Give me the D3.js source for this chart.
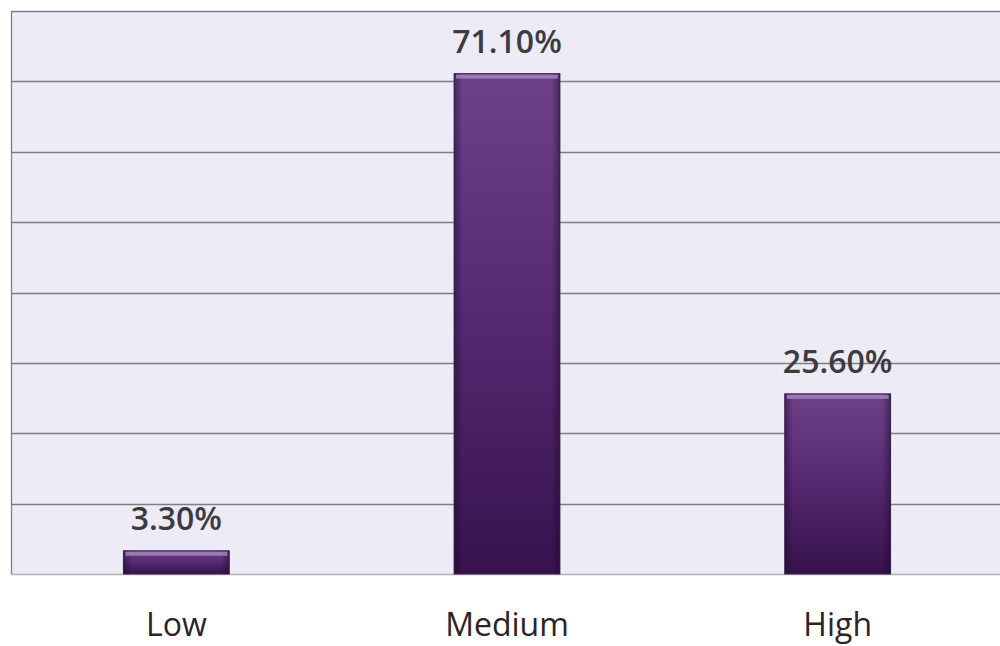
<!DOCTYPE html>
<html>
<head>
<meta charset="utf-8">
<script src="https://cdn.jsdelivr.net/npm/d3@7/dist/d3.min.js"></script>
<style>
  html, body { margin: 0; padding: 0; background: #ffffff; }
  svg { display: block; }
</style>
</head>
<body>
<svg id="chart" width="1000" height="646"></svg>
<script>
// Share of respondents per level
const categories = ["Low", "Medium", "High"];
const values = [3.3, 71.1, 25.6];
const valueLabels = ["3.30%", "71.10%", "25.60%"];
const yTicks = [0, 10, 20, 30, 40, 50, 60, 70, 80];

const svg = d3.select("#chart");
const margin = { top: 11, right: -3, bottom: 72, left: 11 };
const width = 1000, height = 646;
const plotW = width - margin.left - margin.right;
const plotH = height - margin.top - margin.bottom;

const x = d3.scaleBand()
  .domain(categories)
  .range([margin.left, margin.left + plotW])
  .paddingInner(0.68)
  .paddingOuter(0.34);

const y = d3.scaleLinear()
  .domain([0, 80])
  .range([margin.top + plotH, margin.top]);

// gradients for the bars
const defs = svg.append("defs");
const vGrad = defs.append("linearGradient")
  .attr("id", "barV").attr("x1", 0).attr("y1", 0).attr("x2", 0).attr("y2", 1);
vGrad.append("stop").attr("offset", "0%").attr("stop-color", "#6e4188");
vGrad.append("stop").attr("offset", "45%").attr("stop-color", "#582a74");
vGrad.append("stop").attr("offset", "100%").attr("stop-color", "#37124d");

const hGrad = defs.append("linearGradient")
  .attr("id", "barH").attr("x1", 0).attr("y1", 0).attr("x2", 1).attr("y2", 0);
hGrad.append("stop").attr("offset", "0%").attr("stop-color", "#1a0526").attr("stop-opacity", 0.45);
hGrad.append("stop").attr("offset", "8%").attr("stop-color", "#1a0526").attr("stop-opacity", 0.0);
hGrad.append("stop").attr("offset", "92%").attr("stop-color", "#1a0526").attr("stop-opacity", 0.0);
hGrad.append("stop").attr("offset", "100%").attr("stop-color", "#1a0526").attr("stop-opacity", 0.45);

// plot background
svg.append("rect")
  .attr("x", margin.left).attr("y", margin.top)
  .attr("width", plotW).attr("height", plotH)
  .attr("fill", "#ecebf6");

// gridlines
svg.append("g")
  .selectAll("line")
  .data(yTicks)
  .join("line")
  .attr("x1", margin.left).attr("x2", margin.left + plotW)
  .attr("y1", d => Math.round(y(d)) + 0.5)
  .attr("y2", d => Math.round(y(d)) + 0.5)
  .attr("stroke", d => d === 0 ? "#b0b0ba" : "#7e7e88")
  .attr("stroke-width", 1.3);

// left axis line
svg.append("line")
  .attr("x1", margin.left + 0.5).attr("x2", margin.left + 0.5)
  .attr("y1", margin.top).attr("y2", margin.top + plotH)
  .attr("stroke", "#7e7e88").attr("stroke-width", 1.3);

// bars
const bars = svg.append("g").selectAll("g")
  .data(categories.map((c, i) => ({ c, v: values[i], label: valueLabels[i] })))
  .join("g");

bars.append("rect")
  .attr("x", d => x(d.c))
  .attr("y", d => y(d.v))
  .attr("width", x.bandwidth())
  .attr("height", d => y(0) - y(d.v))
  .attr("fill", "url(#barV)")
  .attr("stroke", "#3e2450")
  .attr("stroke-width", 1);

bars.append("rect")
  .attr("x", d => x(d.c))
  .attr("y", d => y(d.v))
  .attr("width", x.bandwidth())
  .attr("height", d => y(0) - y(d.v))
  .attr("fill", "url(#barH)");

// top highlight of each bar
bars.append("rect")
  .attr("x", d => x(d.c) + 2)
  .attr("y", d => y(d.v) + 1)
  .attr("width", x.bandwidth() - 4)
  .attr("height", 4)
  .attr("fill", "#a384b8")
  .attr("opacity", 0.85);

// value labels
bars.append("text")
  .attr("x", d => x(d.c) + x.bandwidth() / 2)
  .attr("y", d => y(d.v) - 21)
  .attr("text-anchor", "middle")
  .attr("font-family", "'Open Sans', sans-serif")
  .attr("font-weight", 600)
  .attr("font-size", 32)
  .attr("fill", "#3d3b40")
  .text(d => d.label);

// category labels
svg.append("g").selectAll("text")
  .data(categories)
  .join("text")
  .attr("x", d => x(d) + x.bandwidth() / 2)
  .attr("y", 636)
  .attr("text-anchor", "middle")
  .attr("font-family", "'Open Sans', sans-serif")
  .attr("font-size", 32)
  .attr("fill", "#2b2329")
  .text(d => d);
</script>
</body>
</html>
